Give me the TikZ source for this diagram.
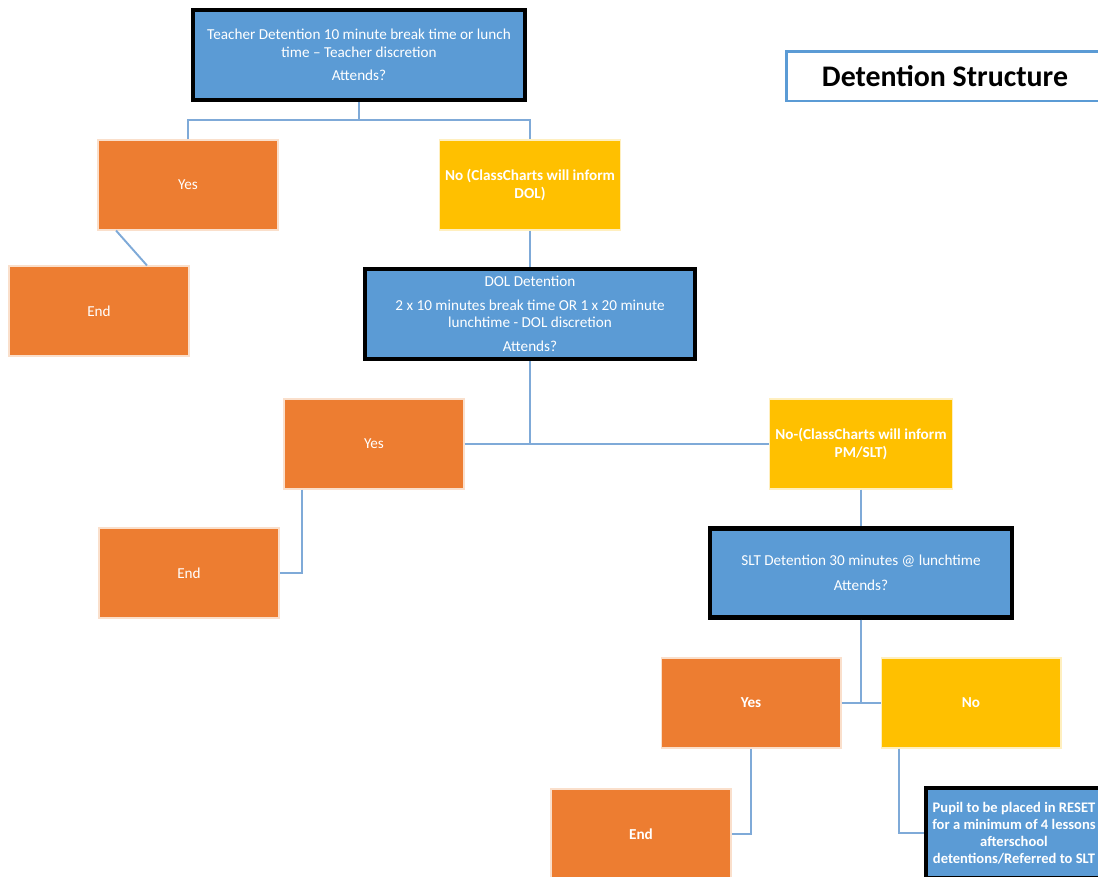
\documentclass[tikz,border=0pt]{standalone}
\usepackage{fontspec}
\setmainfont{Carlito}
\usepackage{tikz}
\definecolor{boxblue}{HTML}{5B9BD5}
\definecolor{boxorange}{HTML}{ED7D31}
\definecolor{boxyellow}{HTML}{FFC000}
\definecolor{linkblue}{HTML}{7FAAD8}

\begin{document}
\begin{tikzpicture}[x=0.02cm,y=-0.02cm,
		  every node/.style={align=center,text=white,font=\fontsize{8.65}{9.9}\selectfont},
		  stage/.style={draw=black,line width=2.3pt,fill=boxblue},
		  yesbox/.style={draw=white!75!boxorange,line width=0.6pt,fill=boxorange,minimum width=3.6cm,minimum height=1.8cm},
		  nobox/.style={draw=white!75!boxyellow,line width=0.6pt,fill=boxyellow,minimum width=3.6cm,minimum height=1.8cm,font=\fontsize{8.65}{9.9}\selectfont\bfseries},
		  heavy/.style={font=\fontsize{8.65}{9.9}\selectfont\bfseries},
		  link/.style={draw=linkblue,line width=1.1pt}]
		  \clip (0,0) rectangle (1098,876);
		  \node[stage, minimum width=6.64cm, minimum height=1.8cm] (teacher) at (359,55) {Teacher Detention 10 minute break time or lunch\\ time -- Teacher discretion\\[3.5pt] Attends?};
		  \node[draw=boxblue, line width=1.7pt, fill=white, text=black, font=\fontsize{17}{20}\selectfont\bfseries, minimum width=6.36cm, minimum height=1cm] (title) at (945,76) {Detention Structure};
                  \node[yesbox] (yesA) at (188,185) {Yes};
                  \node[nobox] (noA) at (530,185) {No (ClassCharts will inform\\ DOL)};
                  \node[yesbox] (endA) at (99,311) {End};
                  \node[stage, minimum width=6.62cm, minimum height=1.8cm] (dol) at (530,314) {DOL Detention\\[3.5pt] 2 x 10 minutes break time OR 1 x 20 minute\\ lunchtime - DOL discretion\\[3.5pt] Attends?};
                  \node[yesbox] (yesB) at (374,444) {Yes};
                  \node[nobox] (noB) at (861,444) {No-(ClassCharts will inform\\ PM/SLT)};
                  \node[yesbox] (endB) at (189,573) {End};
                  \node[stage, minimum width=6.04cm, minimum height=1.78cm] (slt) at (861,573) {SLT Detention 30 minutes @ lunchtime\\[4.5pt] Attends?};
                  \node[yesbox, heavy] (yesC) at (751,703) {Yes};
                  \node[nobox] (noC) at (971,703) {No};
                  \node[yesbox, heavy] (endC) at (641,834) {End};
                  \node[stage, minimum width=3.52cm, minimum height=1.8cm, font=\fontsize{8.3}{9.6}\selectfont\bfseries] (reset) at (1014,833) {Pupil to be placed in RESET\\ for a minimum of 4 lessons\\ afterschool\\ detentions/Referred to SLT};
                  \coordinate (splitA) at (359,120);
                  \draw[link] (teacher) -- (splitA);
                  \draw[link] (yesA.north) |- (splitA) -| (noA.north);
                  \draw[link] ([xshift=-1.44cm]yesA.south) -- ([xshift=0.96cm]endA.north);
                  \draw[link] (noA) -- (dol);
                  \draw[link] (dol) -- (dol |- yesB);
                  \draw[link] (yesB) -- (noB);
                  \draw[link] ([xshift=-1.44cm]yesB.south) |- (endB);
                  \draw[link] (noB) -- (slt);
                  \draw[link] (slt) -- (slt |- yesC);
                  \draw[link] (yesC) -- (noC);
                  \draw[link] (yesC.south) |- (endC);
                  \draw[link] ([xshift=-1.44cm]noC.south) |- (reset);
		\end{tikzpicture}
\end{document}
